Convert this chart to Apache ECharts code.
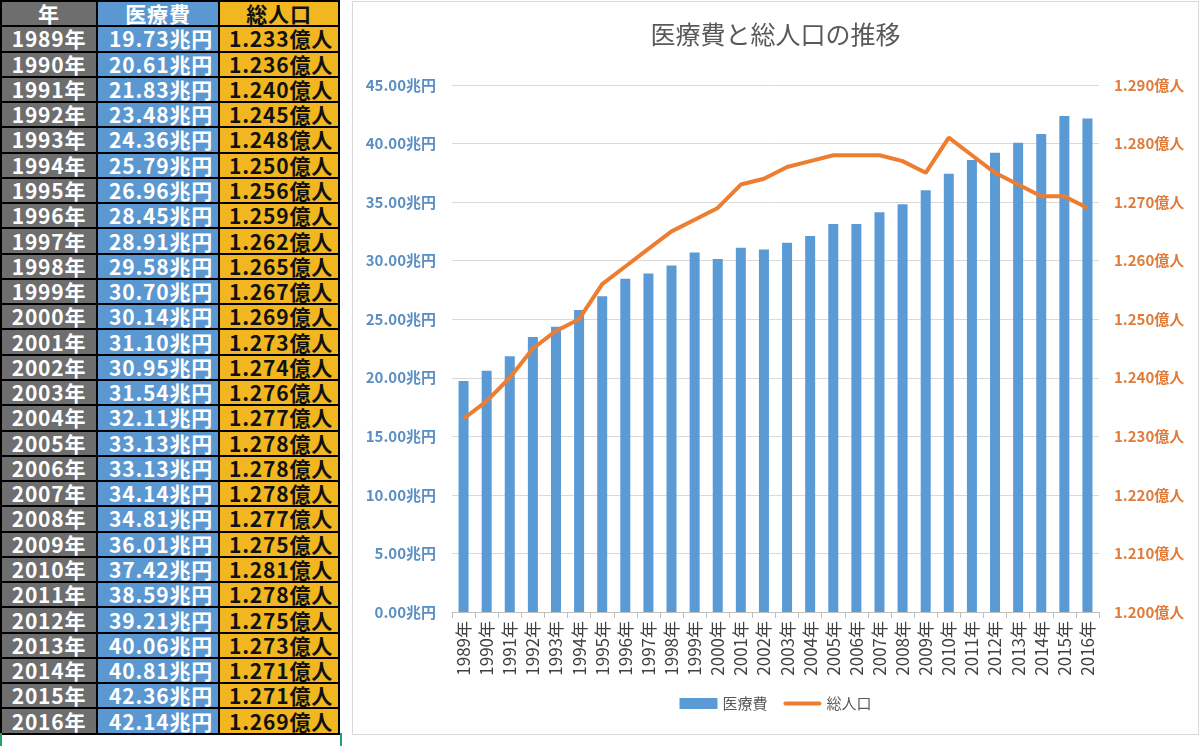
<!DOCTYPE html>
<html>
<head>
<meta charset="utf-8">
<title>医療費と総人口の推移</title>
<script src="https://cdn.jsdelivr.net/npm/echarts@6.0.0/dist/echarts.min.js"></script>
<style>
body{margin:0;background:#fff;width:1200px;height:746px;overflow:hidden;position:relative;font-family:"Noto Sans CJK JP",sans-serif;}
#sheet{position:absolute;left:0;top:0;width:340px;height:733px;border-collapse:collapse;table-layout:fixed;}
#sheet td{border:2px solid #000;padding:0 5px;font-weight:bold;font-size:21px;line-height:21px;white-space:nowrap;overflow:hidden;letter-spacing:0.8px;}
#sheet td.y{background:#6e6e6e;color:#fff;text-align:center;}
#sheet td.m{background:#5b97d0;color:#fff;text-align:right;}
#sheet td.p{background:#f2b720;color:#111;text-align:right;}
#sheet tr.head td{text-align:center;}
#sel{position:absolute;left:0;top:733px;width:338px;height:20px;border-left:2px solid #21a366;border-right:2px solid #21a366;}
#panel{position:absolute;left:352px;top:1px;width:845px;height:732px;border:1px solid #d9d9d9;}
#chart{width:845px;height:732px;}
</style>
</head>
<body>
<table id="sheet"></table>
<div id="sel"></div>
<div id="panel"><div id="chart"></div></div>
<script>
// データ（表と同じ値）
var years = ['1989','1990','1991','1992','1993','1994','1995','1996','1997','1998','1999','2000','2001','2002',
             '2003','2004','2005','2006','2007','2008','2009','2010','2011','2012','2013','2014','2015','2016'];
var medical = [19.73,20.61,21.83,23.48,24.36,25.79,26.96,28.45,28.91,29.58,30.70,30.14,31.10,30.95,
               31.54,32.11,33.13,33.13,34.14,34.81,36.01,37.42,38.59,39.21,40.06,40.81,42.36,42.14];
var population = [1.233,1.236,1.240,1.245,1.248,1.250,1.256,1.259,1.262,1.265,1.267,1.269,1.273,1.274,
                  1.276,1.277,1.278,1.278,1.278,1.277,1.275,1.281,1.278,1.275,1.273,1.271,1.271,1.269];
var headers = ['年','医療費','総人口'];

// 左の表
function buildSheet(){
    var rowH = (733 / (years.length + 1)).toFixed(2) + 'px';
    var html = '<tr class="head" style="height:' + rowH + '">' +
        '<td class="y" style="width:84px">' + headers[0] + '</td>' +
        '<td class="m" style="width:110px">' + headers[1] + '</td>' +
        '<td class="p">' + headers[2] + '</td></tr>';
    for (var i = 0; i < years.length; i++) {
        html += '<tr style="height:' + rowH + '">' +
            '<td class="y">' + years[i] + '年</td>' +
            '<td class="m">' + medical[i].toFixed(2) + '兆円</td>' +
            '<td class="p">' + population[i].toFixed(3) + '億人</td></tr>';
    }
    document.getElementById('sheet').innerHTML = html;
}

function drawChart(){
    var myChart = echarts.init(document.getElementById('chart'));
    var option = {
        animation:false,
        textStyle:{fontFamily:'"Noto Sans CJK JP", sans-serif'},
        title:{
            text:'医療費と総人口の推移',
            left:'center',
            top:15,
            textStyle:{fontSize:25, fontWeight:'normal', color:'#595959'}
        },
        legend:{
            bottom:18,
            left:'center',
            itemWidth:38,
            itemHeight:11,
            itemGap:16,
            textStyle:{fontSize:15, color:'#595959'},
            data:[
                {name:'医療費', icon:'rect'},
                // 線だけの凡例マーク
                {name:'総人口', icon:'path://M2,0 L38,0 A2,2 0 0 1 38,4 L2,4 A2,2 0 0 1 2,0 Z'}
            ]
        },
        grid:{left:99, right:99, top:83, bottom:122},
        xAxis:[
            {
                type:'category',
                data:years.map(function(y){ return y + '年'; }),
                axisLine:{lineStyle:{color:'#bfbfbf'}},
                axisTick:{show:true, length:6, lineStyle:{color:'#bfbfbf'}},
                axisLabel:{rotate:90, fontSize:17, color:'#404040', margin:9, interval:0}
            }
        ],
        yAxis:[
            {
                type:'value',
                min:0, max:45, interval:5,
                axisLine:{show:false},
                axisTick:{show:false},
                splitLine:{lineStyle:{color:'#d9d9d9'}},
                axisLabel:{
                    margin:16, fontSize:15, fontWeight:'bold', color:'#5b8ec3',
                    formatter:function(v){ return v.toFixed(2) + '兆円'; }
                }
            },
            {
                type:'value',
                min:1.2, max:1.29, interval:0.01,
                axisLine:{show:false},
                axisTick:{show:false},
                splitLine:{show:false},
                axisLabel:{
                    margin:15, fontSize:15, fontWeight:'bold', color:'#e07b39',
                    formatter:function(v){ return v.toFixed(3) + '億人'; }
                }
            }
        ],
        series:[
            {
                name:'医療費',
                type:'bar',
                barWidth:10,
                itemStyle:{color:'#5b9bd5'},
                data:medical
            },
            {
                name:'総人口',
                type:'line',
                yAxisIndex:1,
                symbol:'none',
                lineStyle:{width:4, color:'#ed7d31'},
                itemStyle:{color:'#ed7d31'},
                z:3,
                data:population
            }
        ]
    };
    myChart.setOption(option);
}

buildSheet();
drawChart();
</script>
</body>
</html>
